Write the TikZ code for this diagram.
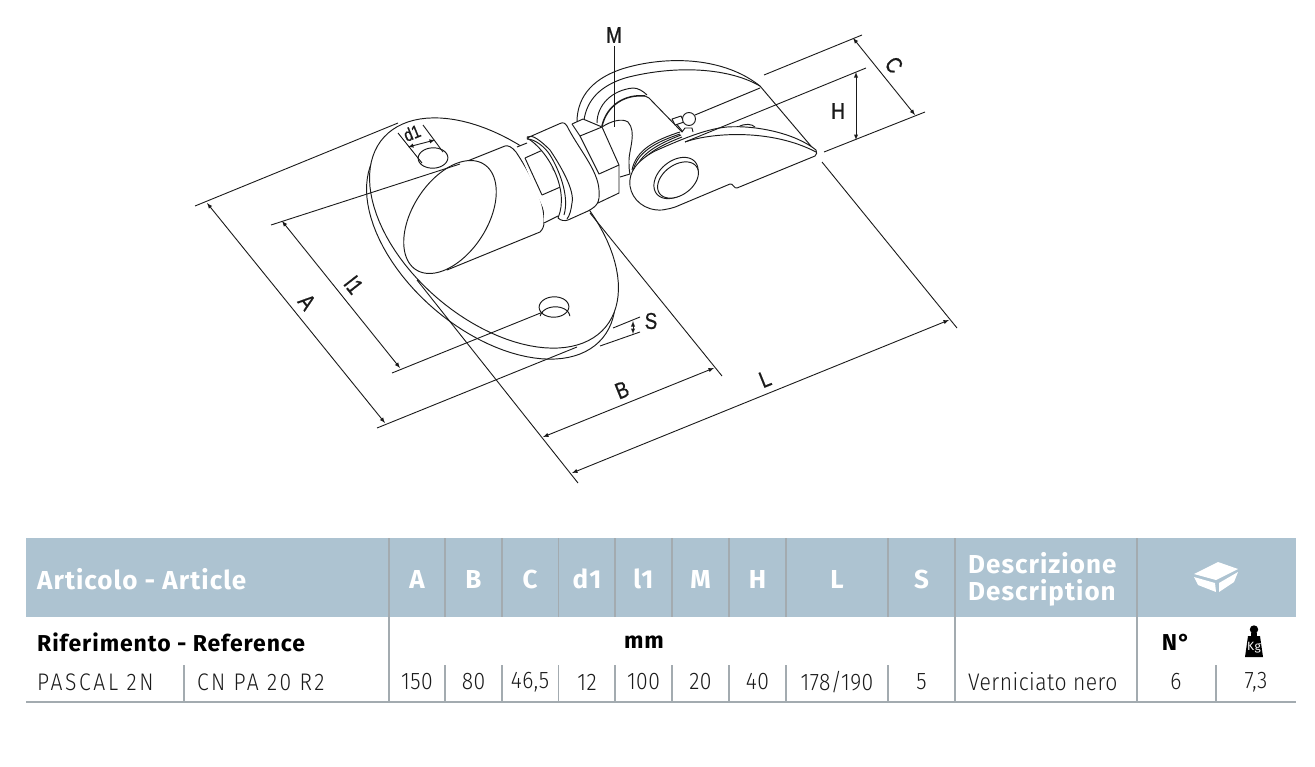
\documentclass[tikz,border=0pt]{standalone}
\usepackage{fontspec}
\newfontfamily\lblfont[FakeStretch=0.82,FakeBold=0.6]{Liberation Sans}
\newfontfamily\tabhead[FakeStretch=1.0,LetterSpace=4]{Fira Sans}
\newfontfamily\tablight[FakeStretch=0.88,LetterSpace=2]{Fira Sans Light}
\definecolor{band}{HTML}{ADC3D1}
\definecolor{rule}{HTML}{A3ABB0}
\definecolor{ink}{HTML}{1A1A1A}
% c_x, c_y, w1, w2, from, to
\newcommand{\conjell}[8]{plot[domain=#7:#8,samples=100] ({#1+(#3)*cos(\x)+(#5)*sin(\x)},{#2+(#4)*cos(\x)+(#6)*sin(\x)})}
\tikzset{
    part/.style={draw=ink, line width=0.95pt, fill=white, line join=round},
    edge/.style={draw=ink, line width=0.95pt, line join=round},
    dimline/.style={draw=ink, line width=0.9pt},
    dimarrow/.style={draw=ink, line width=0.9pt, <->, >=latex},
    dimtext/.style={inner sep=0pt, text=ink, font=\lblfont\fontsize{23}{23}\selectfont},
    headtext/.style={inner sep=0pt, text=white, font=\tabhead\bfseries\fontsize{26}{26}\selectfont},
    subtext/.style={inner sep=0pt, text=black, font=\tabhead\bfseries\fontsize{23}{23}\selectfont},
    datatext/.style={inner sep=0pt, text=ink, font=\tablight\fontsize{24}{24}\selectfont},
}
\begin{document}
\begin{tikzpicture}[x=1pt, y=-1pt]
    \useasboundingbox (0,0) rectangle (1315,766);

    % base plate
    \draw[part] \conjell{491}{244}{89}{110}{87}{-34}{0}{360};
    \draw[part] \conjell{494}{233}{89}{110}{87}{-34}{0}{360};
    \draw[part] \conjell{554}{307}{7.1}{8.8}{13}{-5.1}{0}{360};
    \draw[edge] \conjell{555}{317}{7.1}{8.8}{13}{-5.1}{65}{235};
    \draw[part] \conjell{433}{158}{7.1}{8.8}{13}{-5.1}{0}{360};

    % rear bracket
    \draw[edge] (577,122) .. controls (577,95) and (595,77) .. (625,68) .. controls (670,55) and (725,58) .. (760,86) -- (816,152);
    \draw[edge] (584,120) .. controls (587,100) and (600,86) .. (625,78) .. controls (670,66) and (725,66) .. (760,86);
    \draw[edge] (597,123) .. controls (597,105) and (612,90) .. (633,88) .. controls (638,88) and (643,91) .. (647,95);
    \draw[edge, line width=1.5pt] (602,126) .. controls (607,105) and (625,94) .. (645,96);
    \draw[edge] (645,96) -- (649,98) -- (682,132);
    \draw[edge] (675,122) -- (683,132);
    \draw[edge] (760,88) -- (695,115);
    \draw[part] (672,119) -- (681,116) -- (684,122) -- (675,125) -- cycle;
    \draw[part] (689,119) circle (6.5);
    \draw[part] (682,132) -- (685,128) -- (692,128) -- (693,132);

    % elbow
    \draw[edge] (602,127) .. controls (611,121) and (622,118) .. (628,122) .. controls (637,132) and (629,150) .. (629,160) .. controls (629,166) and (629,170) .. (630,174) -- (620,177);

    % pin body
    \draw[part] (460,164) -- (505,146) .. controls (508,145) and (512,147) .. (516,152) .. controls (528,170) and (545,200) .. (544,222) .. controls (544,226) and (543,229) .. (540,232) -- (447,270) -- cycle;
    \draw[part] \conjell{450}{217}{5}{-53}{46}{-19.5}{0}{360};

    % first hexagon
    \fill[white] (517,147) -- (530,141) -- (565,185) -- (563,216) -- (544,224) -- (544,210) -- cycle;
    \draw[edge] (517,147) -- (527,143);
    \draw[edge] (525,158) -- (545,149) -- (565,185) -- (563,215);
    \draw[edge] (542,195) -- (565,185);
    \draw[edge] (525,158) -- (542,195);
    \draw[edge] (544,223) -- (558,216);

    % second hexagon
    \fill[white] (572,124) -- (583,119) -- (602,127) -- (619,165) -- (619,193) -- (595,204) -- (580,170) -- cycle;
    \draw[edge] (572,124) -- (583,119) -- (602,127) -- (619,165) -- (619,193) -- (598,203);
    \draw[edge] (572,124) -- (580,136) -- (602,127);
    \draw[edge] (580,136) -- (599,174) -- (619,165);

    % collar
    \draw[part] (527,138) -- (560,123.5) .. controls (563,122) and (565,123) .. (567,126) .. controls (578,148) and (598,170) .. (599,190) .. controls (600,203) and (597,206) .. (588,211) -- (568,220) .. controls (565,221) and (561,221) .. (558,218) .. controls (570,190) and (548,150) .. (527,138) -- cycle;
    \draw[edge] (527,137) .. controls (532,134) and (540,140) .. (550,150) .. controls (560,165) and (575,190) .. (572,203) .. controls (571,210) and (570,215) .. (567,219);
    \draw[edge] (527,139) .. controls (535,139) and (545,147) .. (550,155) .. controls (558,168) and (570,195) .. (564,215);

    % front link
    \draw[edge] (632,170) .. controls (636,150) and (655,140) .. (680,132);
    \draw[edge] (633,171) .. controls (637,152) and (656,142) .. (680,134);
    \draw[edge] (635,172) .. controls (639,154) and (658,144) .. (681,135);
    \draw[edge] (636,173) .. controls (640,156) and (659,146) .. (682,137);
    \draw[edge] (738,127) .. controls (745,123) and (752,124) .. (755,127);
    \draw[part] (816,150) .. controls (795,133) and (755,125) .. (727,127) .. controls (705,129) and (680,140) .. (655,151) .. controls (638,160) and (628,172) .. (630,186) .. controls (632,200) and (645,211) .. (662,210) .. controls (668,209) and (674,208) .. (680,205) -- (730,184) .. controls (733,183) and (734,189) .. (737,188) -- (815,156) .. controls (817,155) and (817,152) .. (816,150) -- cycle;
    \draw[edge] (685,142) .. controls (710,133) and (770,128) .. (816,152);
    \draw[part] \conjell{676}{178}{19.2}{-16}{10.9}{13}{0}{360};
    \draw[part] \conjell{678}{180}{18}{-14}{9.6}{11.5}{0}{360};

    % dimension points
    \coordinate (A1) at (207,203);
    \coordinate (A2) at (385,423);
    \coordinate (AT) at (195,206);
    \coordinate (AE) at (398,123);
    \coordinate (AB) at (377,428);
    \coordinate (AF) at (577,347);
    \coordinate (SU1) at (613,328);
    \coordinate (SU2) at (640,317);
    \coordinate (SL1) at (600,346);
    \coordinate (SL2) at (640,332);
    \coordinate (S1) at (633,321);
    \coordinate (S2) at (633,334);
    \coordinate (I1) at (282,221);
    \coordinate (I2) at (400,368);
    \coordinate (IT) at (271,225);
    \coordinate (IE) at (460,164);
    \coordinate (IB) at (392,373);
    \coordinate (IF) at (543,312);
    \coordinate (B1) at (543,437);
    \coordinate (B2) at (714,368);
    \coordinate (BE) at (590,213);
    \coordinate (BF) at (722,376);
    \coordinate (L1) at (572,473);
    \coordinate (L2) at (949,320);
    \coordinate (LE) at (417,280);
    \coordinate (LF) at (578,483);
    \coordinate (LG) at (822,162);
    \coordinate (LH) at (957,328);
    \coordinate (C1) at (853,38);
    \coordinate (C2) at (915,115);
    \coordinate (CT) at (764,75);
    \coordinate (CU) at (862,35);
    \coordinate (CB) at (824,152);
    \coordinate (CD) at (925,112);
    \coordinate (H1) at (856,72);
    \coordinate (H2) at (856,140);
    \coordinate (HE) at (685,142);
    \coordinate (HF) at (866,68);
    \coordinate (D1) at (408,147);
    \coordinate (D2) at (435,140);
    \coordinate (DA) at (398,133);
    \coordinate (DB) at (422,163);
    \coordinate (DC) at (423,125);
    \coordinate (DD) at (443,152);
    \coordinate (MT) at (614.5,46);
    \coordinate (MB) at (614.5,127);

    % dimension lines
    \draw[dimline] (AT) -- (AE);
    \draw[dimline] (AB) -- (AF);
    \draw[dimline] (SU1) -- (SU2);
    \draw[dimline] (SL1) -- (SL2);
    \draw[dimline] (IT) -- (IE);
    \draw[dimline] (IB) -- (IF);
    \draw[dimline] (BE) -- (BF);
    \draw[dimline] (LE) -- (LF);
    \draw[dimline] (LG) -- (LH);
    \draw[dimline] (CT) -- (CU);
    \draw[dimline] (CB) -- (CD);
    \draw[dimline] (HE) -- (HF);
    \draw[dimline] (DA) -- (DB);
    \draw[dimline] (DC) -- (DD);
    \draw[dimline] (MT) -- (MB);
    \draw[dimarrow] (A1) -- (A2);
    \draw[dimarrow] (I1) -- (I2);
    \draw[dimarrow] (B1) -- (B2);
    \draw[dimarrow] (L1) -- (L2);
    \draw[dimarrow] (C1) -- (C2);
    \draw[dimarrow] (H1) -- (H2);
    \draw[dimarrow] (D1) -- (D2);
    \draw[dimarrow] (S1) -- (S2);

    \node[dimtext] (lblM) at (614,35) {M};
    \node[dimtext] (lblH) at (838,111) {H};
    \node[dimtext, rotate=-52] (lblC) at (894,65) {C};
    \node[dimtext, rotate=-52] (lblA) at (307,302) {A};
    \node[dimtext, rotate=-52] (lblI) at (354,285) {l1};
    \node[dimtext, rotate=22] (lblB) at (622,390) {B};
    \node[dimtext, rotate=22] (lblL) at (765,379) {L};
    \node[dimtext] (lblS) at (651,321) {S};
    \node[dimtext, rotate=22, font=\lblfont\fontsize{18}{18}\selectfont] (lblD) at (412,133) {d1};

    % table
    \fill[band] (26,538) rectangle (1296,617);
    \draw[rule, line width=1.3pt] (389,538) -- (389,702) (955,538) -- (955,702) (1137,538) -- (1137,702);
    \draw[rule, line width=1.3pt] (445,538) -- (445,617) (502,538) -- (502,617) (558.5,538) -- (558.5,617) (615,538) -- (615,617) (672,538) -- (672,617) (729,538) -- (729,617) (786,538) -- (786,617) (888,538) -- (888,617);
    \draw[rule, line width=1.1pt] (184,665) -- (184,702) (445,665) -- (445,702) (502,665) -- (502,702) (558.5,665) -- (558.5,702) (615,665) -- (615,702) (672,665) -- (672,702) (729,665) -- (729,702) (786,665) -- (786,702) (888,665) -- (888,702) (1216,665) -- (1216,702);
    \draw[rule, line width=1.6pt] (26,702) -- (1296,702);

    \node[headtext, anchor=west] (artHead) at (37,579) {Articolo - Article};
    \node[headtext] (colA) at (417,579) {A};
    \node[headtext] (colB) at (473.5,579) {B};
    \node[headtext] (colC) at (530,579) {C};
    \node[headtext] (colD) at (587,579) {d1};
    \node[headtext] (colI) at (643.5,579) {l1};
    \node[headtext] (colM) at (700.5,579) {M};
    \node[headtext] (colH) at (757.5,579) {H};
    \node[headtext] (colL) at (837,579) {L};
    \node[headtext] (colS) at (921.5,579) {S};
    \node[headtext, anchor=west, align=left] (colDesc) at (968,579) {Descrizione\\[1pt]Description};

    \node[subtext, anchor=west] (refHead) at (37,642) {Riferimento - Reference};
    \node[subtext] (unitHead) at (644,642) {mm};
    \node[subtext] (numHead) at (1176,642) {N°};

    \node[datatext, anchor=west, font=\tablight\fontsize{24}{24}\selectfont\addfontfeature{LetterSpace=11}] (valName) at (37,682) {PASCAL 2N};
    \node[datatext, anchor=west, font=\tablight\fontsize{24}{24}\selectfont\addfontfeature{LetterSpace=10}] (valCode) at (197,682) {CN PA 20 R2};
    \node[datatext] (valA) at (417,682) {150};
    \node[datatext] (valB) at (473.5,682) {80};
    \node[datatext] (valC) at (530,682) {46,5};
    \node[datatext] (valD) at (587,682) {12};
    \node[datatext] (valI) at (643.5,682) {100};
    \node[datatext] (valM) at (700.5,682) {20};
    \node[datatext] (valH) at (757.5,682) {40};
    \node[datatext] (valL) at (837,682) {178/190};
    \node[datatext] (valS) at (921.5,682) {5};
    \node[datatext, anchor=west] (valDesc) at (968,682) {Verniciato nero};
    \node[datatext] (valN) at (1176,682) {6};
    \node[datatext] (valW) at (1256,682) {7,3};

    % box icon
    \fill[white] (1194,574) -- (1218,562) -- (1238,569) -- (1216,580) -- cycle;
    \fill[white] (1194,577) -- (1215,583) -- (1216,592) -- (1198,585) -- cycle;
    \fill[white] (1219,583) -- (1238,572) -- (1234,582) -- (1219,592) -- cycle;

    % weight icon
    \fill[black] (1254,629.5) circle (4.2);
    \fill[black] (1251,633) rectangle (1257,637);
    \fill[black] (1248,636) -- (1260,636) -- (1263,657) -- (1245,657) -- cycle;
    \node[inner sep=0pt, text=white, font=\tabhead\fontsize{12}{12}\selectfont] (kgText) at (1254,648) {Kg};
\end{tikzpicture}
\end{document}
